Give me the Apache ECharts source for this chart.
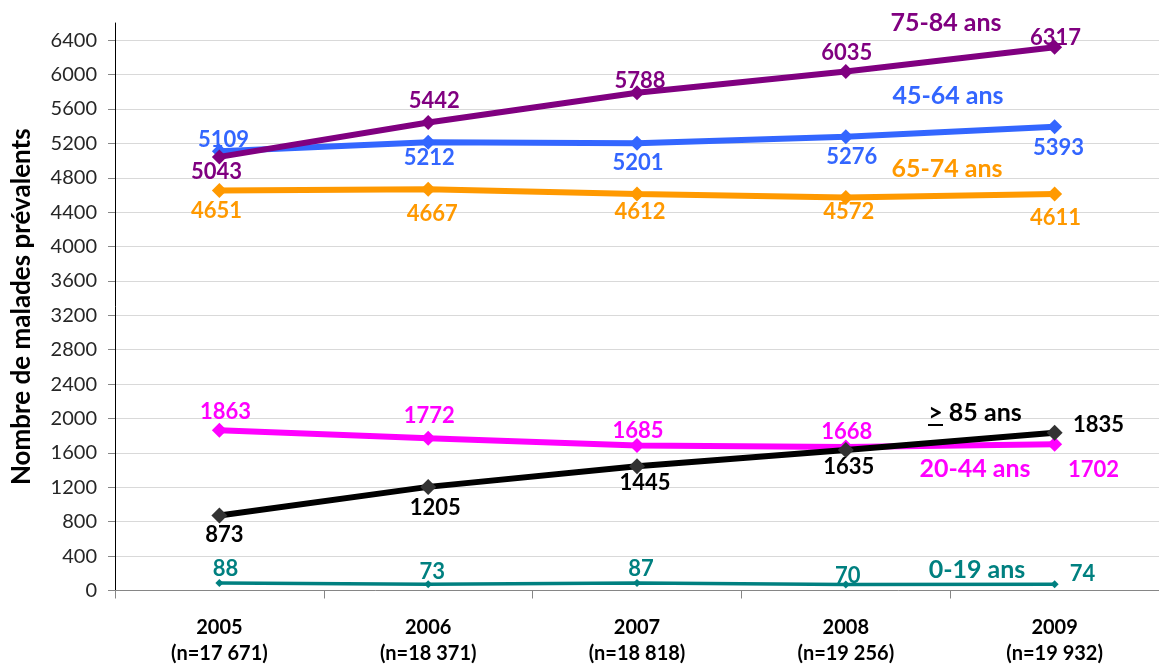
<!DOCTYPE html>
<html lang="fr">
<head>
<meta charset="utf-8">
<title>Nombre de malades prévalents par classe d'âge, 2005-2009</title>
<script src="https://cdn.jsdelivr.net/npm/echarts@6/dist/echarts.min.js"></script>
<style>
  html, body { margin: 0; padding: 0; background: #ffffff; }
  #chart { width: 1159px; height: 670px; }
</style>
</head>
<body>
<div id="chart"></div>
<script>
// Années et effectifs totaux (axe des abscisses)
const years = ['2005', '2006', '2007', '2008', '2009'];
const totals = ['17 671', '18 371', '18 818', '19 256', '19 932'];

// Nombre de malades prévalents par classe d'âge
const age0to19 = [88, 73, 87, 70, 74];
const age20to44 = [1863, 1772, 1685, 1668, 1702];
const age45to64 = [5109, 5212, 5201, 5276, 5393];
const age65to74 = [4651, 4667, 4612, 4572, 4611];
const age75to84 = [5043, 5442, 5788, 6035, 6317];
const age85plus = [873, 1205, 1445, 1635, 1835];

// Graduations de l'axe vertical
const yTicks = [0, 400, 800, 1200, 1600, 2000, 2400, 2800, 3200, 3600, 4000, 4400, 4800, 5200, 5600, 6000, 6400];

const FONT = 'Lato, "Open Sans", "Noto Sans", sans-serif';

// Décalage (px) de chaque étiquette de valeur par rapport à son point
const labelShift = {
  age0to19:  [[6, -14], [4, -12], [4, -14], [2, -9], [28, -10]],
  age20to44: [[6, -18], [1, -22], [1, -15], [1, -15], [39, 26]],
  age45to64: [[4, -11], [1, 16], [1, 20], [6, 20], [4, 21]],
  age65to74: [[-3, 20], [4, 25], [3, 18], [3, 15], [1, 24]],
  age75to84: [[-3, 15], [6, -22], [3, -12], [1, -19], [1, -9]],
  age85plus: [[5, 19], [7, 21], [8, 17], [3, 17], [44, -8]]
};

function makeSeries(name, key, values, color, opts) {
  return {
    name: name,
    type: 'line',
    data: values.map(function (v, i) {
      return { value: v, label: { offset: labelShift[key][i] } };
    }),
    symbol: 'diamond',
    symbolSize: opts.symbolSize,
    showSymbol: true,
    lineStyle: { color: color, width: opts.lineWidth },
    itemStyle: { color: opts.markerColor || color },
    label: {
      show: true,
      position: 'inside',
      color: opts.labelColor || color,
      fontFamily: FONT,
      fontWeight: 'bold',
      fontSize: 22
    },
    emphasis: { disabled: true },
    z: opts.z
  };
}

const seriesList = [
  makeSeries('0-19 ans', 'age0to19', age0to19, '#008080', { symbolSize: 8, lineWidth: 3.5, z: 2 }),
  makeSeries('20-44 ans', 'age20to44', age20to44, '#FF00FF', { symbolSize: 15, lineWidth: 6, z: 3 }),
  makeSeries('45-64 ans', 'age45to64', age45to64, '#3366FF', { symbolSize: 15, lineWidth: 6, z: 4 }),
  makeSeries('65-74 ans', 'age65to74', age65to74, '#FF9900', { symbolSize: 15, lineWidth: 6, z: 5 }),
  makeSeries('75-84 ans', 'age75to84', age75to84, '#800080', { symbolSize: 15, lineWidth: 6, z: 6 }),
  makeSeries('>= 85 ans', 'age85plus', age85plus, '#000000', { symbolSize: 16, lineWidth: 6, markerColor: '#333333', z: 7 })
];

// Noms des classes d'âge, posés à côté des courbes
function seriesName(text, x, y, color) {
  return {
    type: 'text',
    x: x, y: y,
    style: {
      text: text,
      fill: color,
      font: 'bold 25px ' + FONT,
      textAlign: 'center',
      textVerticalAlign: 'middle'
    },
    z: 10
  };
}

const chart = echarts.init(document.getElementById('chart'), null, { renderer: 'canvas' });

chart.setOption({
  animation: false,
  backgroundColor: '#ffffff',
  grid: { left: 115, right: -4, top: 23, bottom: 79.5, containLabel: false },
  xAxis: {
    type: 'category',
    data: years,
    boundaryGap: true,
    axisLine: { show: true, lineStyle: { color: '#868686', width: 1 } },
    axisTick: { show: true, interval: 0, length: 8, lineStyle: { color: '#868686' } },
    axisLabel: {
      interval: 0,
      margin: 24,
      color: '#000000',
      fontFamily: FONT,
      fontWeight: 'bold',
      fontSize: 20,
      lineHeight: 26,
      formatter: function (value, index) {
        return value + '\n(n=' + totals[index] + ')';
      }
    },
    splitLine: { show: false }
  },
  yAxis: {
    type: 'value',
    min: 0,
    max: 6600,
    interval: 400,
    name: 'Nombre de malades prévalents',
    nameLocation: 'middle',
    nameGap: 80,
    nameTextStyle: { fontFamily: FONT, fontWeight: 'bold', fontSize: 26, color: '#000000' },
    axisLine: { show: true, lineStyle: { color: '#000000', width: 1 } },
    axisTick: { show: true, length: 7, lineStyle: { color: '#868686' }, customValues: yTicks },
    axisLabel: {
      color: '#262626',
      fontFamily: FONT,
      fontSize: 20,
      margin: 18,
      customValues: yTicks,
      formatter: function (v) { return String(v); }
    },
    splitLine: {
      show: true,
      showMinLine: false,
      lineStyle: { color: '#d9d9d9', width: 1 }
    }
  },
  series: seriesList,
  graphic: [
    seriesName('75-84 ans', 946, 23, '#800080'),
    seriesName('45-64 ans', 948, 96, '#3366FF'),
    seriesName('65-74 ans', 947, 169, '#FF9900'),
    {
      type: 'group',
      z: 10,
      children: [
        seriesName('> 85 ans', 975, 413, '#000000'),
        { type: 'line', shape: { x1: 928, y1: 425, x2: 943, y2: 425 }, style: { stroke: '#000000', lineWidth: 2 } }
      ]
    },
    seriesName('20-44 ans', 975, 469, '#FF00FF'),
    seriesName('0-19 ans', 977, 570, '#008080')
  ]
});
</script>
</body>
</html>
